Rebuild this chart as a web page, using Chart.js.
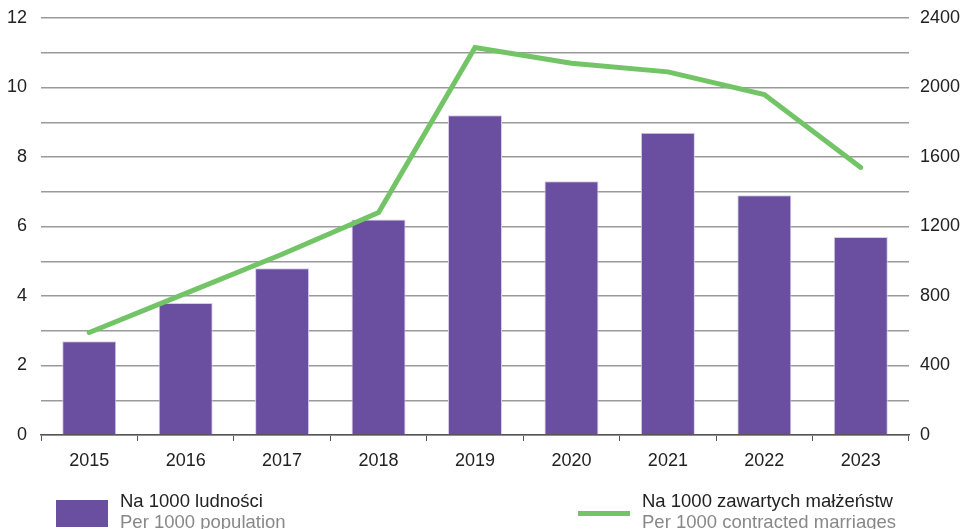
<!DOCTYPE html>
<html lang="pl">
  <head>
    <meta charset="UTF-8" />
    <title>Rozwody</title>
    <script src="https://cdn.jsdelivr.net/npm/chart.js@4.4.1/dist/chart.umd.min.js"></script>
    <style>
      body { margin: 0; background: #fff; }
      #wrap { width: 965px; height: 529px; }
    </style>
  </head>
  <body>
    <div id="wrap"><canvas id="chart" width="965" height="529"></canvas></div>

    <script>
      // years on the x axis
      const years = ["2015", "2016", "2017", "2018", "2019", "2020", "2021", "2022", "2023"];
      // bars, left axis
      const perPopulation = [2.7, 3.8, 4.8, 6.2, 9.2, 7.3, 8.7, 6.9, 5.7];
      // line, right axis
      const perMarriages = [590, 815, 1040, 1280, 2230, 2140, 2090, 1960, 1540];

      const barLabel = ["Na 1000 ludności", "Per 1000 population"];
      const lineLabel = ["Na 1000 zawartych małżeństw", "Per 1000 contracted marriages"];

      const purple = "#6a4fa0";
      const green = "#72c466";
      const font = "Liberation Sans, Arial, sans-serif";

      // two-line legend under the chart (Polish + English)
      const bottomLegend = {
        id: "bottomLegend",
        afterDraw(chart) {
          const ctx = chart.ctx;
          ctx.save();
          ctx.fillStyle = purple;
          ctx.fillRect(56, 500, 52, 27);
          ctx.strokeStyle = green;
          ctx.lineWidth = 5;
          ctx.beginPath();
          ctx.moveTo(578, 513.5);
          ctx.lineTo(630, 513.5);
          ctx.stroke();

          ctx.font = "18.5px " + font;
          ctx.textBaseline = "alphabetic";
          ctx.fillStyle = "#222";
          ctx.fillText(barLabel[0], 120, 507);
          ctx.fillText(lineLabel[0], 642, 507);
          ctx.fillStyle = "#888";
          ctx.fillText(barLabel[1], 120, 528);
          ctx.fillText(lineLabel[1], 642, 528);
          ctx.restore();
        },
      };

      // fixed axis widths, no extra room for the half label at the top
      const fitY = (w) => (s) => {
        s.width = w;
        s.paddingTop = 0;
        s.paddingBottom = 0;
      };

      const ctx = document.getElementById("chart").getContext("2d");
      new Chart(ctx, {
        data: {
          labels: years,
          datasets: [
            {
              type: "line",
              label: lineLabel[0],
              data: perMarriages,
              yAxisID: "y2",
              borderColor: green,
              borderWidth: 5,
              borderCapStyle: "round",
              pointRadius: 0,
              tension: 0,
              order: 0,
            },
            {
              type: "bar",
              label: barLabel[0],
              data: perPopulation,
              yAxisID: "y",
              backgroundColor: purple,
              borderColor: "#d6cdea",
              borderWidth: 1,
              categoryPercentage: 1,
              barPercentage: 0.56,
              order: 1,
            },
          ],
        },
        options: {
          responsive: false,
          animation: false,
          layout: { padding: { top: 18, bottom: 54, left: 0, right: 0 } },
          plugins: {
            legend: { display: false },
            tooltip: { enabled: false },
          },
          scales: {
            x: {
              afterFit: (s) => { s.height = 40; },
              grid: {
                offset: true,
                drawOnChartArea: false,
                drawTicks: true,
                tickLength: 6,
                color: "#555",
              },
              border: { color: "#555", width: 1.5 },
              ticks: { color: "#222", font: { family: font, size: 18 }, padding: 9 },
            },
            y: {
              position: "left",
              min: 0,
              max: 12,
              afterFit: fitY(41),
              ticks: {
                stepSize: 1,
                color: "#222",
                padding: 14,
                font: { family: font, size: 18 },
                callback: (v) => (v % 2 === 0 ? v : ""),
              },
              grid: { color: "#9a9a9a", lineWidth: 1.5, drawTicks: false },
              border: { display: false },
            },
            y2: {
              position: "right",
              min: 0,
              max: 2400,
              afterFit: fitY(56),
              ticks: {
                stepSize: 400,
                color: "#222",
                padding: 11,
                font: { family: font, size: 18 },
                callback: (v) => String(v),
              },
              grid: { display: false, drawTicks: false },
              border: { display: false },
            },
          },
        },
        plugins: [bottomLegend],
      });
    </script>
  </body>
</html>
